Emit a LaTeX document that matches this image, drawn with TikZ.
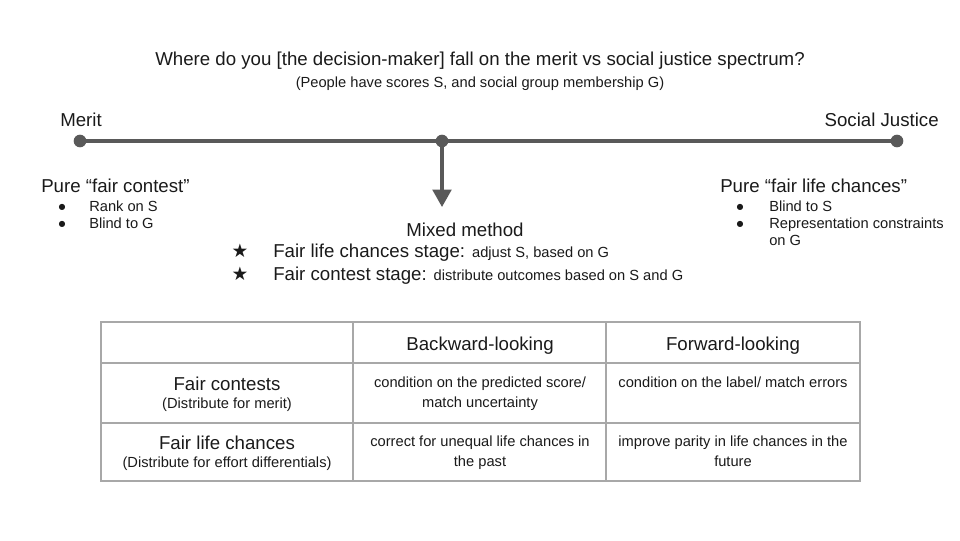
\documentclass[tikz,border=0pt]{standalone}
\usepackage{fontspec}
\setmainfont{Liberation Sans}
\newfontfamily\symfont{DejaVu Sans}
\usetikzlibrary{arrows.meta}
\definecolor{lineg}{HTML}{595959}
\definecolor{tabg}{HTML}{A8A8A8}
\definecolor{txt}{HTML}{1A1A1A}
\begin{document}
\begin{tikzpicture}[x=0.75pt,y=-0.75pt,
  every node/.style={inner sep=0pt, text=txt},
  big/.style={font=\fontsize{14}{17}\selectfont},
  small/.style={font=\fontsize{11}{15}\selectfont},
  bul/.style={font=\symfont\fontsize{6}{7}\selectfont, anchor=center},
  staricon/.style={font=\symfont\fontsize{14}{15}\selectfont, anchor=center},
  dot/.style={circle, fill=lineg, minimum size=9.5pt, inner sep=0pt},
  spec/.style={draw=lineg, line width=2.3pt},
  tab/.style={draw=tabg, line width=0.8pt}]
\useasboundingbox (0,0) rectangle (960,540);
% title
\node[big, anchor=base] (title) at (480,65) {Where do you [the decision-maker] fall on the merit vs social justice spectrum?};
\node[small, anchor=base] (sub) at (480,87) {(People have scores S, and social group membership G)};
% spectrum
\node[big, anchor=base west] (merit) at (60,126) {Merit};
\node[big, anchor=base east] (sj) at (939,126) {Social Justice};
\node[dot] (d1) at (80,141) {};
\node[dot] (d2) at (442,141) {};
\node[dot] (d3) at (897,141) {};
\coordinate (tip) at (442,207);
\draw[spec] (d1.center) -- (d2.center) -- (d3.center);
\draw[spec, -{Triangle[width=14pt,length=13pt]}] (d2.center) -- (tip);
% left
\node[big, anchor=base west] (pfc) at (41,192) {Pure “fair contest”};
\node[bul] (b1) at (62,207) {●};
\node[small, anchor=base west] (l1) at (89,211) {Rank on S};
\node[bul] (b2) at (62,224) {●};
\node[small, anchor=base west] (l2) at (89,228) {Blind to G};
% right
\node[big, anchor=base west] (pflc) at (720,192) {Pure “fair life chances”};
\node[bul] (b3) at (740,207) {●};
\node[small, anchor=base west] (r1) at (769,211) {Blind to S};
\node[bul] (b4) at (740,224) {●};
\node[small, anchor=base west] (r2) at (769,228) {Representation constraints};
\node[small, anchor=base west] (r3) at (769,245) {on G};
% mixed
\node[big, anchor=base] (mm) at (465,236) {Mixed method};
\node[staricon] (s1) at (240,251) {★};
\node[anchor=base west] (m1) at (273,257) {\fontsize{14}{17}\selectfont Fair life chances stage: \fontsize{11}{13}\selectfont adjust S, based on G};
\node[staricon] (s2) at (240,274) {★};
\node[anchor=base west] (m2) at (273,280) {\fontsize{14}{17}\selectfont Fair contest stage: \fontsize{11}{13}\selectfont distribute outcomes based on S and G};
% table
\draw[tab] (101,322) rectangle (860,481);
\draw[tab] (101,363) -- (860,363);
\draw[tab] (101,423) -- (860,423);
\draw[tab] (353,322) -- (353,481);
\draw[tab] (606,322) -- (606,481);
\node[big, anchor=base] (h1) at (480,350) {Backward-looking};
\node[big, anchor=base] (h2) at (733,350) {Forward-looking};
\node[big, anchor=base] (fc) at (227,390) {Fair contests};
\node[small, anchor=base] (fcs) at (227,408) {(Distribute for merit)};
\node[big, anchor=base] (flc) at (227,449) {Fair life chances};
\node[small, anchor=base] (flcs) at (227,467) {(Distribute for effort differentials)};
\node[small, anchor=base] (c11) at (480,387) {condition on the predicted score/};
\node[small, anchor=base] (c11b) at (480,407) {match uncertainty};
\node[small, anchor=base] (c12) at (733,387) {condition on the label/ match errors};
\node[small, anchor=base] (c21) at (480,446) {correct for unequal life chances in};
\node[small, anchor=base] (c21b) at (480,466) {the past};
\node[small, anchor=base] (c22) at (733,446) {improve parity in life chances in the};
\node[small, anchor=base] (c22b) at (733,466) {future};
\end{tikzpicture}
\end{document}
